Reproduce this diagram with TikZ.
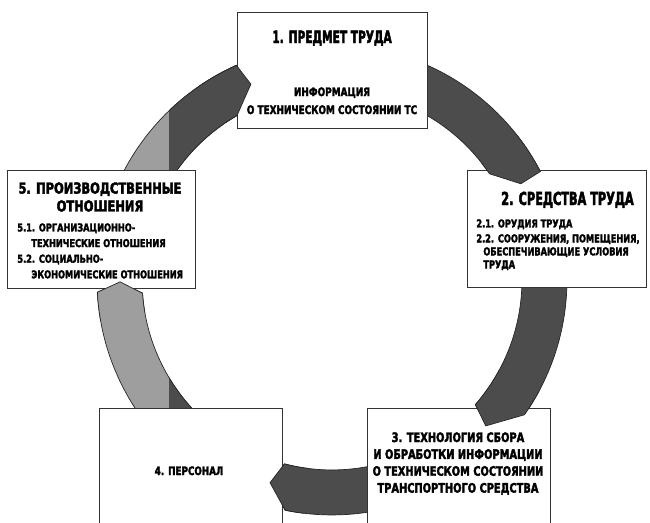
\documentclass[tikz,border=0pt]{standalone}
\usepackage{fontspec}
\setmainfont{DejaVu Sans Condensed Bold}[FakeStretch=0.84, FakeBold=2.5]
\newfontfamily\headfont{DejaVu Sans Condensed Bold}[FakeStretch=0.7, FakeBold=2.5]

%ring radii (1 unit = 0.02cm)
\newcommand{\rin}{3.8cm}
\newcommand{\rout}{4.7cm}
\newcommand{\rtip}{4.24cm}
%ring piece: #1 start, #2 outer end, #3 tip, #4 inner end
\newcommand{\ringhead}[4]{(#1:\rout) arc[start angle=#1, end angle=#2, radius=\rout] -- (#3:\rtip) -- (#4:\rin) arc[start angle=#4, end angle=#1, radius=\rin]}
\newcommand{\ringarrow}[4]{\ringhead{#1}{#2}{#3}{#4} -- cycle}

\begin{document}
\begin{tikzpicture}[x=0.02cm, y=0.02cm]

  \tikzset{
    darkarrow/.style={fill=black!70, draw=black!85, line width=0.4pt},
    lightarrow/.style={fill=black!38, draw=black!85, line width=0.4pt},
    arrowline/.style={draw=black!85, line width=0.4pt},
    box/.style={draw=black!80, fill=white, line width=0.5pt, inner sep=0pt, outer sep=0pt},
    head/.style={font=\headfont\fontsize{10.2}{12}\selectfont, inner sep=0pt},
    txt/.style={inner sep=0pt},
  }

  \useasboundingbox (0,0) rectangle (650,522);
  \clip (0,0) rectangle (650,522);

  %arrows under the boxes
  \begin{scope}[shift={(332,242)}]
    %1 -> 2
    \path[darkarrow] \ringarrow{90}{27.5}{27}{34};
    %2 -> 3
    \path[darkarrow] \ringarrow{3}{-35}{-43.5}{-41};
    %3 -> 4
    \path[darkarrow] \ringarrow{300}{258.5}{253}{255.5};
    %4 -> 5, dark right of x=169
    \path[lightarrow] \ringarrow{245}{183}{180.5}{184};
    \begin{scope}
      \clip (-163,-300) rectangle (400,300);
      \path[darkarrow] \ringarrow{245}{183}{180.5}{184};
    \end{scope}
    %5 -> 1
    \path[lightarrow] \ringarrow{165}{114}{112.5}{120};
    \begin{scope}
      \clip (-163,-300) rectangle (400,300);
      \path[darkarrow] \ringarrow{165}{114}{112.5}{120};
    \end{scope}
  \end{scope}

  %boxes
  \node[box, minimum width=3.8cm, minimum height=2.32cm] (subject) at (332,452) {};
  \node[box, minimum width=3.58cm, minimum height=2.34cm] (means) at (556.5,293.5) {};
  \node[box, minimum width=3.66cm, minimum height=2.44cm] (technology) at (458.5,53) {};
  \node[box, minimum width=3.66cm, minimum height=2.44cm] (staff) at (190.5,53) {};
  \node[box, minimum width=3.76cm, minimum height=2.36cm] (relations) at (101,293) {};

  %arrow heads over the boxes
  \begin{scope}[shift={(332,242)}]
    \fill[black!70] \ringarrow{38}{27.5}{27}{34};
    \path[arrowline] \ringhead{38}{27.5}{27}{34};
    \fill[black!70] \ringarrow{-28}{-35}{-43.5}{-41};
    \path[arrowline] \ringhead{-28}{-35}{-43.5}{-41};
    \fill[black!70] \ringarrow{263}{258.5}{253}{255.5};
    \path[arrowline] \ringhead{263}{258.5}{253}{255.5};
    \fill[black!38] \ringarrow{190}{183}{180.5}{184};
    \path[arrowline] \ringhead{190}{183}{180.5}{184};
    \fill[black!70] \ringarrow{124}{114}{112.5}{120};
    \path[arrowline] \ringhead{124}{114}{112.5}{120};
  \end{scope}

  %texts
  \node[head, anchor=base, font=\headfont\fontsize{9.6}{12}\selectfont] (subjecttitle) at (332,479) {1. ПРЕДМЕТ ТРУДА};
  \node[txt, anchor=north, align=center, font=\fontsize{6.7}{10.2}\selectfont] (subjectinfo) at (332,435) {ИНФОРМАЦИЯ\\О ТЕХНИЧЕСКОМ СОСТОЯНИИ ТС};

  \node[head, anchor=base] (meanstitle) at (567.5,317) {2. СРЕДСТВА ТРУДА};
  \node[txt, anchor=north west, align=left, font=\fontsize{6.2}{7.4}\selectfont] (meansitems) at (476,303) {2.1. ОРУДИЯ ТРУДА\\[1.1pt]2.2. СООРУЖЕНИЯ, ПОМЕЩЕНИЯ,\\\hspace*{4pt}ОБЕСПЕЧИВАЮЩИЕ УСЛОВИЯ\\\hspace*{4pt}ТРУДА};

  \node[txt, anchor=north, align=center, font=\fontsize{7.4}{9.6}\selectfont] (technologytext) at (458,90) {3. ТЕХНОЛОГИЯ СБОРА\\И ОБРАБОТКИ ИНФОРМАЦИИ\\О ТЕХНИЧЕСКОМ СОСТОЯНИИ\\ТРАНСПОРТНОГО СРЕДСТВА};

  \node[txt, anchor=base, font=\fontsize{6.6}{8}\selectfont] (stafftext) at (189,47) {4. ПЕРСОНАЛ};

  \node[txt, anchor=north, align=center, font=\fontsize{8.6}{10.2}\selectfont] (relationstitle) at (100,340) {5. ПРОИЗВОДСТВЕННЫЕ\\ОТНОШЕНИЯ};
  \node[txt, anchor=north west, align=left, font=\fontsize{6.2}{8.9}\selectfont] (relationsitems) at (17,299) {5.1. ОРГАНИЗАЦИОННО-\\\hspace*{8pt}ТЕХНИЧЕСКИЕ ОТНОШЕНИЯ\\5.2. СОЦИАЛЬНО-\\\hspace*{8pt}ЭКОНОМИЧЕСКИЕ ОТНОШЕНИЯ};

\end{tikzpicture}
\end{document}
